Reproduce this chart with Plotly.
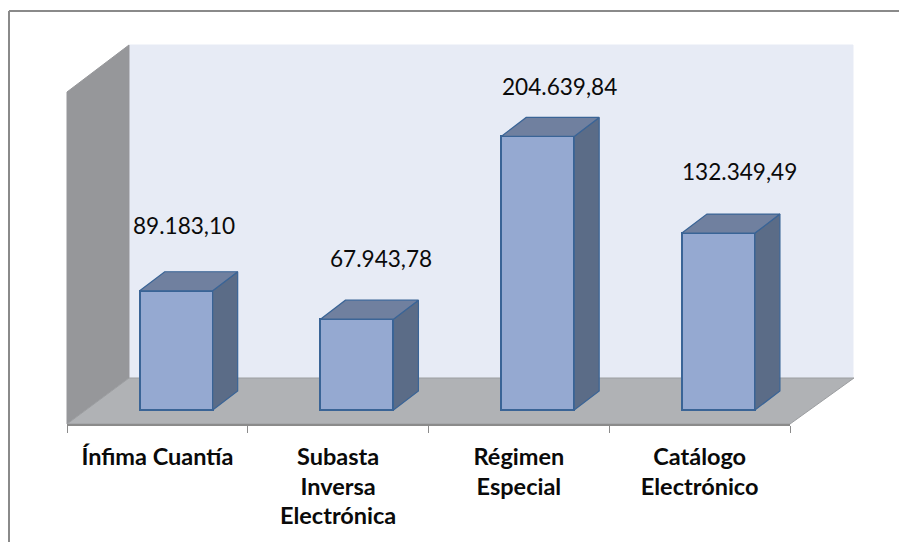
import plotly.graph_objects as go

categories = ["Ínfima Cuantía", "Subasta<br>Inversa<br>Electrónica", "Régimen<br>Especial", "Catálogo<br>Electrónico"]
values = [89183.10, 67943.78, 204639.84, 132349.49]
label_dx = [8, 24, 22, 21]
label_dy = [65, 61, 50, 62]

W, H = 899, 542
L, R, T, B = 67, 790, 45, 424   # plot rectangle in pixels
BASE_PX = 410                   # pixel row of value 0 (front plane of the bars)
PX_PER_UNIT = 0.001337
CAT_PX = (R - L) / 4
BAR_PX, BAR_SHIFT_PX = 73, 18.8
DEPTH_X_PX, DEPTH_Y_PX = 25, 19

y_low = -(B - BASE_PX) / PX_PER_UNIT
y_high = (BASE_PX - T) / PX_PER_UNIT
bar_w = BAR_PX / CAT_PX
bar_off = BAR_SHIFT_PX / CAT_PX
dx = DEPTH_X_PX / CAT_PX
dy = DEPTH_Y_PX / PX_PER_UNIT

LINE = "#3a6496"
FRONT = "#95a9d1"
SIDE = "#5b6c87"
TOP = "#70809f"

xs = list(range(len(values)))
fig = go.Figure()
fig.add_bar(x=[i + bar_off for i in xs], y=values, width=bar_w,
            marker=dict(color=FRONT, line=dict(color=LINE, width=2)), hoverinfo="skip")

for i, v in zip(xs, values):
    x0 = i + bar_off - bar_w / 2
    x1 = i + bar_off + bar_w / 2
    fig.add_scatter(x=[x1, x1 + dx, x1 + dx, x1, x1], y=[0, dy, v + dy, v, 0],
                    mode="lines", fill="toself", fillcolor=SIDE,
                    line=dict(color=LINE, width=1.2), cliponaxis=False, hoverinfo="skip")
    fig.add_scatter(x=[x0, x1, x1 + dx, x0 + dx, x0], y=[v, v, v + dy, v + dy, v],
                    mode="lines", fill="toself", fillcolor=TOP,
                    line=dict(color=LINE, width=1.2), cliponaxis=False, hoverinfo="skip")


def px(x):
    return (x - L) / (R - L)


def py(y):
    return (B - y) / (B - T)


def poly(points, fill, line=None):
    path = "M " + " L ".join(f"{px(a):.5f},{py(b):.5f}" for a, b in points) + " Z"
    return dict(type="path", xref="paper", yref="paper", path=path, fillcolor=fill,
                line=dict(color=line or fill, width=1), layer="below")


def frame_line(x0, y0, x1, y1):
    return dict(type="line", xref="paper", yref="paper", x0=px(x0), y0=py(y0), x1=px(x1), y1=py(y1),
                line=dict(color="#8a8a8a", width=2), layer="below")


shapes = [
    poly([(129, 45), (853, 45), (853, 378), (129, 378)], "#e7ebf5"),
    poly([(67, 92), (129, 45), (129, 378), (67, 424)], "#96979a"),
    poly([(67, 424), (129, 378), (854, 378), (790, 424)], "#b0b2b5", "#9c9ea1"),
    frame_line(9, 11, 899, 11),
    frame_line(9, 11, 9, 542),
]

FONT = "Lato"
annotations = [
    dict(x=i + bar_off, y=v, xref="x", yref="y", showarrow=False,
         text=f"{v:,.2f}".replace(",", "X").replace(".", ",").replace("X", "."),
         xshift=sx, yshift=sy, font=dict(family=FONT, size=22.6, color="#0a0a0a"))
    for i, v, sx, sy in zip(xs, values, label_dx, label_dy)
]

tick_text = [
    "<br>".join(f'<span style="font-size:23.5px"><b>{part}</b></span>' for part in c.split("<br>"))
    for c in categories
]

fig.update_layout(
    width=W, height=H, margin=dict(l=L, r=W - R, t=T, b=H - B),
    paper_bgcolor="white", plot_bgcolor="rgba(0,0,0,0)",
    showlegend=False, bargap=0, shapes=shapes, annotations=annotations,
    font=dict(family=FONT),
    xaxis=dict(range=[-0.5, 3.5], tickmode="array", tickvals=xs, ticktext=tick_text,
               ticks="", showgrid=False, zeroline=False, showline=True,
               linecolor="#8b8b8b", linewidth=2, ticklabelstandoff=11,
               tickfont=dict(family=FONT, size=23, color="#0a0a0a"),
               minor=dict(tickmode="array", tickvals=[-0.5, 0.5, 1.5, 2.5, 3.5], ticks="outside",
                          ticklen=7, tickwidth=1, tickcolor="#8b8b8b", showgrid=False)),
    yaxis=dict(range=[y_low, y_high], visible=False),
)

fig.write_html("out.html", config=dict(displayModeBar=False),
               post_script="document.body.style.margin='0';")
